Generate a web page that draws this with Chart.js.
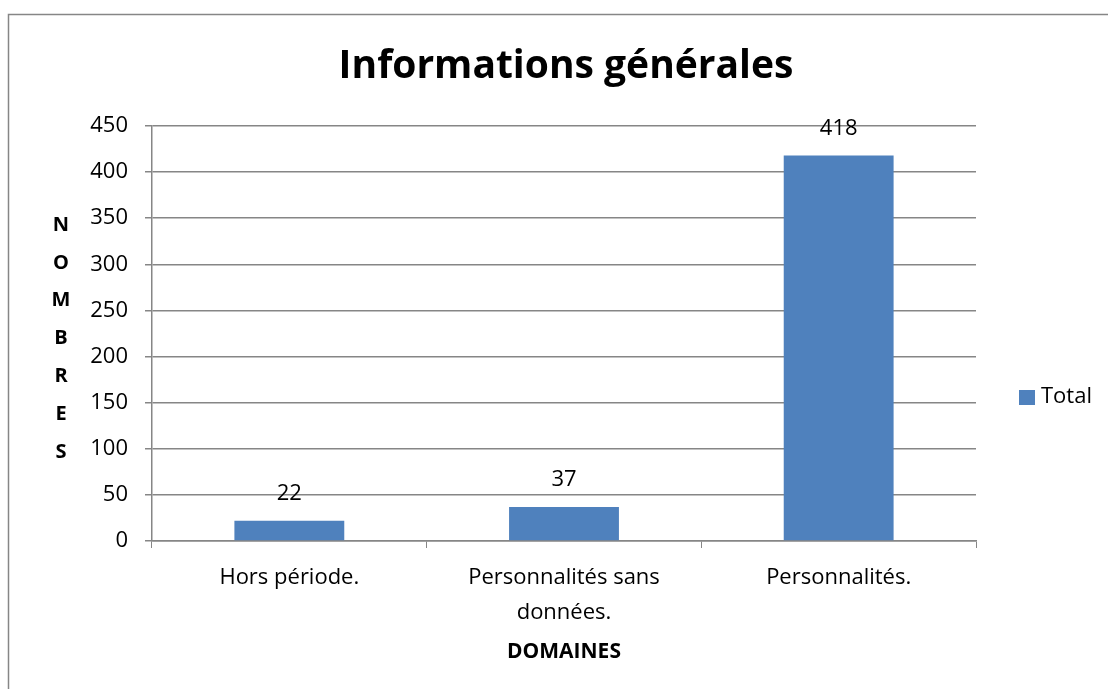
<!DOCTYPE html>
<html lang="fr">

<head>
    <meta charset="UTF-8">
    <meta name="viewport" content="width=device-width, initial-scale=1.0">
    <title>Informations générales</title>
    <style>
        body { margin: 0; background: #fff; }
    </style>
</head>

<body>

    <div style="width: 1108px; height: 689px;">
        <canvas id="myChart"></canvas>
    </div>

    <script src="https://cdn.jsdelivr.net/npm/chart.js"></script>
    <script>
        let v_title = "Informations générales";
        let v_labels = ["Hors période.", ["Personnalités sans", "données."], "Personnalités."];
        let v_values = [22, 37, 418];
        let v_seriesName = "Total";
        let v_yTicks = [0, 50, 100, 150, 200, 250, 300, 350, 400, 450];
        let v_yTitle = ["N", "O", "M", "B", "R", "E", "S"];

        const v_gray = "#868686";
        const v_blue = "#4F81BD";
        const v_font = "'Open Sans', 'Liberation Sans', sans-serif";

        // cadre, titre, titre vertical, étiquettes et légende
        let v_extras = {
            id: "extras",
            afterDraw(chart) {
                let c = chart.ctx;
                let area = chart.chartArea;
                c.save();

                c.strokeStyle = v_gray;
                c.lineWidth = 1.5;
                c.beginPath();
                c.moveTo(8.5, 689);
                c.lineTo(8.5, 14.5);
                c.lineTo(1108, 14.5);
                c.stroke();

                c.fillStyle = "#000";
                c.textAlign = "center";
                c.textBaseline = "middle";
                c.font = "bold 39px " + v_font;
                c.fillText(v_title, (area.left + area.right) / 2 + 2, 67);

                c.font = "bold 20px " + v_font;
                for (let i = 0; i < v_yTitle.length; i++) {
                    c.fillText(v_yTitle[i], 61, 225 + i * 37.8);
                }

                c.font = "22px " + v_font;
                let v_bars = chart.getDatasetMeta(0).data;
                for (let i = 0; i < v_bars.length; i++) {
                    c.fillText(String(v_values[i]), v_bars[i].x, v_bars[i].y - 27);
                }

                let lx = area.right + 43;
                c.fillStyle = v_blue;
                c.fillRect(lx, 390, 16, 15);
                c.fillStyle = "#000";
                c.textAlign = "left";
                c.fillText(v_seriesName, lx + 22, 397);

                c.restore();
            }
        };

        const ctx = document.querySelector("#myChart");

        new Chart(ctx, {
            type: 'bar',
            data: {
                labels: v_labels,
                datasets: [{
                    label: v_seriesName,
                    data: v_values,
                    backgroundColor: v_blue,
                    borderWidth: 0,
                    categoryPercentage: 1,
                    barPercentage: 0.4
                }]
            },
            options: {
                responsive: true,
                maintainAspectRatio: false,
                animation: false,
                events: [],
                layout: { padding: { left: 0, right: 132, top: 126, bottom: 0 } },
                plugins: {
                    legend: { display: false },
                    tooltip: { enabled: false },
                    title: { display: false }
                },
                scales: {
                    x: {
                        grid: {
                            drawOnChartArea: false,
                            drawTicks: true,
                            tickLength: 7,
                            color: v_gray,
                            offset: true
                        },
                        border: { color: v_gray, width: 1.5 },
                        ticks: {
                            color: "#000",
                            padding: 12,
                            maxRotation: 0,
                            autoSkip: false,
                            font: { family: v_font, size: 22, lineHeight: 1.6 }
                        },
                        title: {
                            display: true,
                            text: "DOMAINES",
                            color: "#000",
                            font: { family: v_font, size: 21, weight: "bold", lineHeight: 1.2 },
                            padding: { top: 0, bottom: 24 }
                        },
                        afterFit(scale) { scale.height = 148; }
                    },
                    y: {
                        min: 0,
                        max: 450,
                        grid: {
                            color: v_gray,
                            lineWidth: 1.5,
                            tickLength: 7
                        },
                        border: { color: v_gray, width: 1.5 },
                        afterBuildTicks(scale) {
                            scale.ticks = v_yTicks.map(v => ({ value: v }));
                        },
                        ticks: {
                            color: "#000",
                            padding: 17,
                            font: { family: v_font, size: 22 }
                        },
                        afterFit(scale) { scale.width = 152; }
                    }
                }
            },
            plugins: [v_extras]
        });
    </script>


</body>

</html>
